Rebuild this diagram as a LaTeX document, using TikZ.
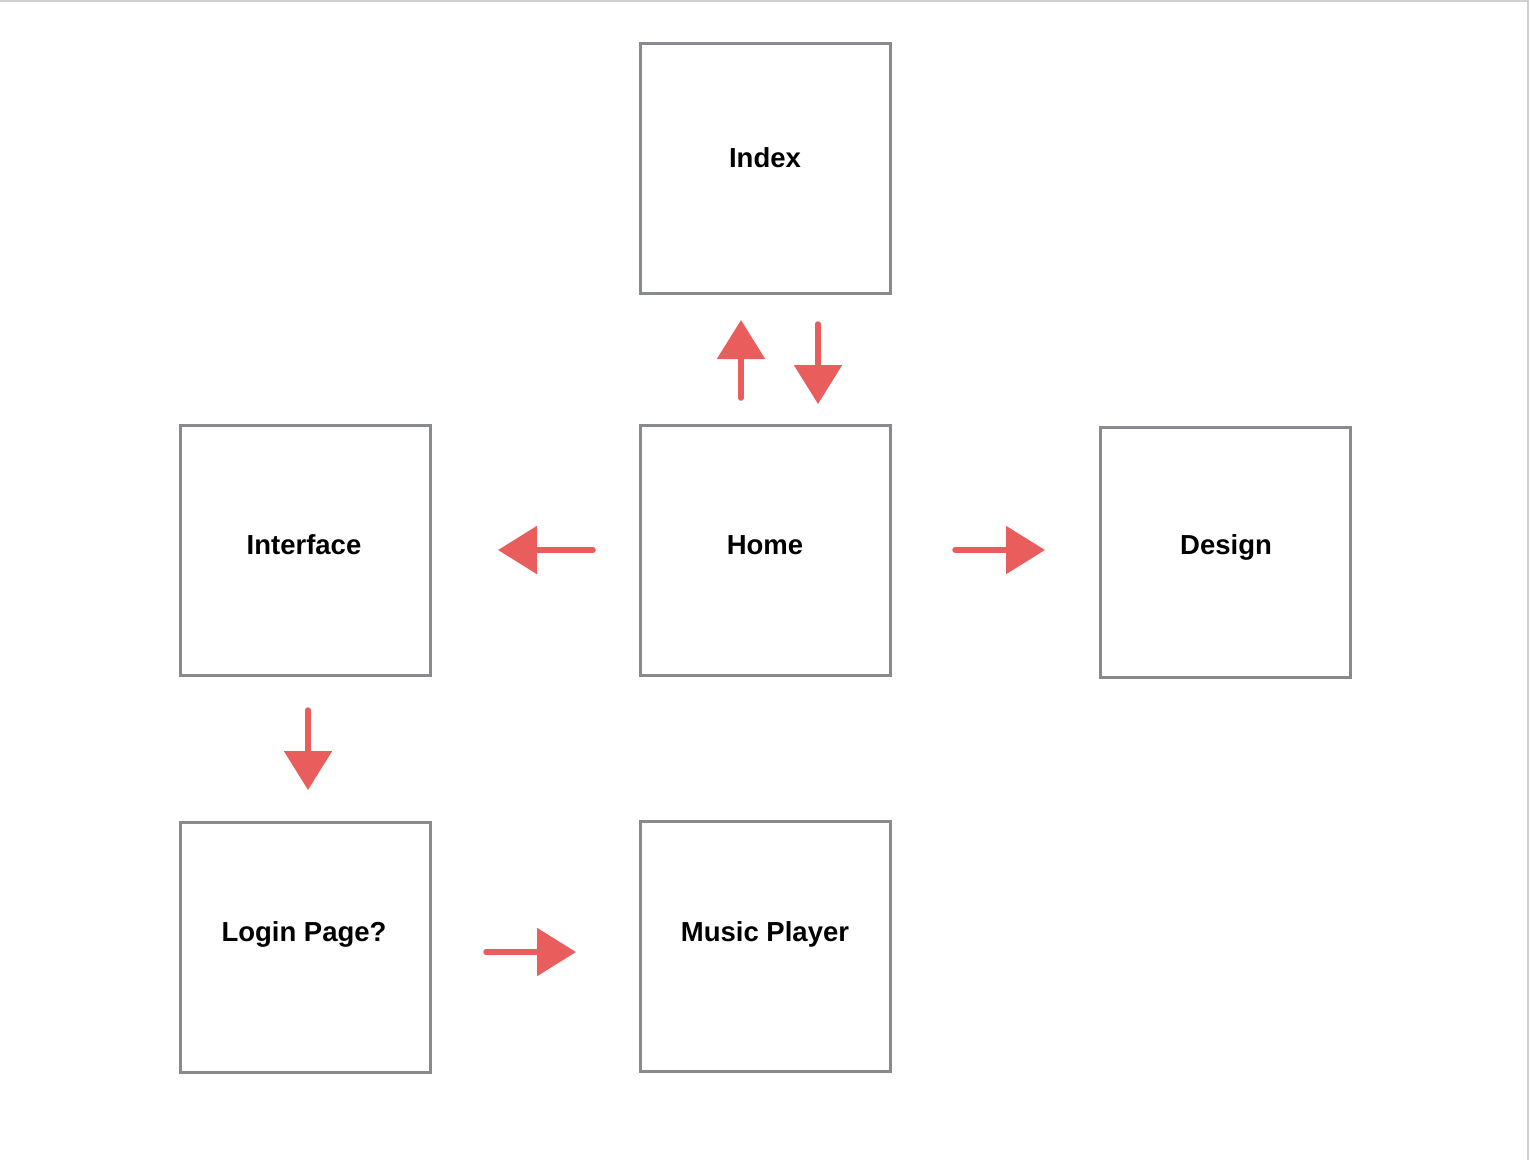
\documentclass[tikz,border=0pt]{standalone}
\usepackage{fontspec}
\setmainfont{Liberation Sans}
\usetikzlibrary{arrows.meta}
\definecolor{boxgray}{HTML}{898A8E}
\definecolor{arrred}{HTML}{E95E5C}
\definecolor{framegray}{HTML}{D0D0D0}
\begin{document}
\begin{tikzpicture}[x=1pt,y=-1pt,
  pagebox/.style={draw=boxgray,line width=3pt,minimum width=250pt,minimum height=250pt,inner sep=0pt,fill=white},
  lbl/.style={font=\bfseries\fontsize{27.5}{32}\selectfont,text=black,inner sep=0pt,anchor=base},
  arr/.style={draw=arrred,line width=5.5pt,line cap=round,-{Triangle[length=39pt,width=47pt]},arrred}]
\useasboundingbox (0,0) rectangle (1530,1160);
\fill[white] (0,0) rectangle (1530,1160);
\draw[framegray,line width=2pt] (0,1) -- (1528,1) -- (1528,1160);
% boxes
\node[pagebox] (index) at (765,168.5) {};
\node[pagebox] (home) at (765,550) {};
\node[pagebox] (interface) at (305,550) {};
\node[pagebox] (design) at (1225,552) {};
\node[pagebox] (login) at (305,947.5) {};
\node[pagebox] (music) at (765,946.5) {};
% labels
\node[lbl] (tindex) at (765,167.5) {Index};
\node[lbl] (thome) at (765,554.5) {Home};
\node[lbl] (tinterface) at (304,554.5) {Interface};
\node[lbl] (tdesign) at (1226,554.5) {Design};
\node[lbl] (tlogin) at (304,941) {Login Page?};
\node[lbl] (tmusic) at (765,941) {Music Player};
% arrow endpoints
\coordinate (upS) at (741,398);
\coordinate (upE) at (741,320);
\coordinate (dnS) at (818,324);
\coordinate (dnE) at (818,404);
\coordinate (lfS) at (593,550);
\coordinate (lfE) at (498,550);
\coordinate (rtS) at (955,550);
\coordinate (rtE) at (1045,550);
\coordinate (d2S) at (308,710);
\coordinate (d2E) at (308,790);
\coordinate (r2S) at (486,952);
\coordinate (r2E) at (576,952);
\draw[arr] (upS) -- (upE);
\draw[arr] (dnS) -- (dnE);
\draw[arr] (lfS) -- (lfE);
\draw[arr] (rtS) -- (rtE);
\draw[arr] (d2S) -- (d2E);
\draw[arr] (r2S) -- (r2E);
\end{tikzpicture}
\end{document}
